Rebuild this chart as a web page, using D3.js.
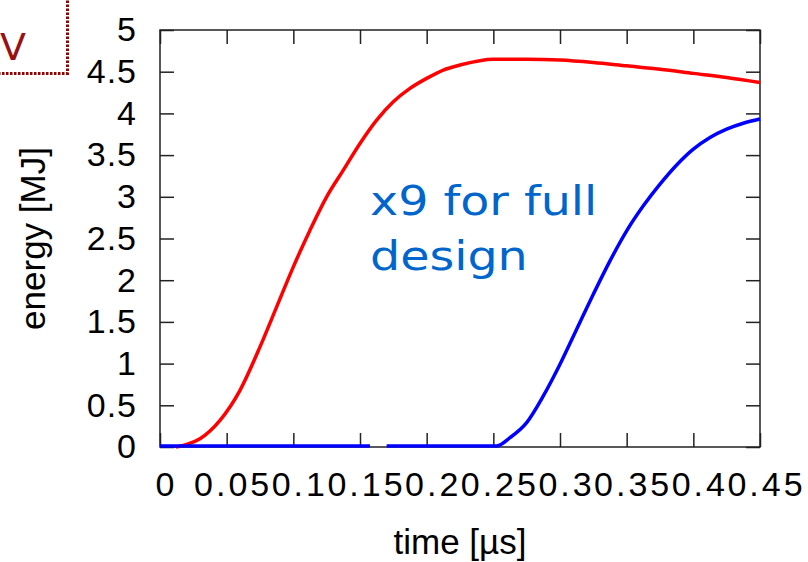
<!DOCTYPE html>
<html>
<head>
<meta charset="utf-8">
<script src="https://cdn.jsdelivr.net/npm/d3@7"></script>
<style>
    body { margin: 0; background: #fff; }
    svg { display: block; }
</style>
</head>
<body>
<div id="container"></div>
<script>
// red curve: time [us] / energy [MJ]
const redTime = [0.012, 0.02, 0.03, 0.045, 0.06, 0.075, 0.0875, 0.1, 0.1125, 0.125, 0.1375, 0.15,
    0.1625, 0.175, 0.1875, 0.2, 0.2125, 0.225, 0.25, 0.275, 0.3, 0.325, 0.35, 0.375, 0.4, 0.425, 0.45]
const redEnergy = [0, 0.03, 0.10, 0.32, 0.68, 1.20, 1.68, 2.16, 2.60, 3.00, 3.32, 3.64,
    3.92, 4.14, 4.30, 4.42, 4.52, 4.58, 4.65, 4.65, 4.64, 4.61, 4.57, 4.53, 4.48, 4.43, 4.37]

// blue curve, null = gap in the trace
const blueTime = [0, 0.1575, 0.164, 0.17, 0.2525, 0.2625, 0.275, 0.2875, 0.3, 0.3125, 0.325,
    0.3375, 0.35, 0.3625, 0.375, 0.3875, 0.4, 0.4125, 0.425, 0.4375, 0.45]
const blueEnergy = [0, 0, null, 0, 0, 0.10, 0.28, 0.60, 0.98, 1.40, 1.82,
    2.22, 2.58, 2.88, 3.14, 3.37, 3.56, 3.70, 3.80, 3.87, 3.92]

const xTicks = [0, 0.05, 0.1, 0.15, 0.2, 0.25, 0.3, 0.35, 0.4, 0.45]
const yTicks = [0, 0.5, 1, 1.5, 2, 2.5, 3, 3.5, 4, 4.5, 5]

const note = ['x9 for full', 'design']

function draw() {
    const config = {
        width: 808,
        height: 562,
        margin: { left: 160, right: 48, top: 30, bottom: 115 },
        tick: 14,
        font: 'Liberation Sans, Arial, sans-serif',
    }
    const chart = {
        width: config.width - config.margin.left - config.margin.right,
        height: config.height - config.margin.top - config.margin.bottom,
    }

    const svg = d3
        .select('#container')
        .append('svg')
        .attr('width', config.width)
        .attr('height', config.height)

    // clipped box in the upper left corner
    svg.append('rect')
        .attr('x', -10)
        .attr('y', -10)
        .attr('width', 77.5)
        .attr('height', 83.5)
        .attr('fill', 'none')
        .attr('stroke', '#990000')
        .attr('stroke-width', 3)
        .attr('stroke-dasharray', '2.5,1.5')

    svg.append('text')
        .attr('x', 26)
        .attr('y', 60)
        .attr('text-anchor', 'end')
        .attr('font-family', 'DejaVu Sans, sans-serif')
        .attr('font-size', '38px')
        .attr('fill', '#991111')
        .text('V')

    const root = svg
        .append('g')
        .attr('transform', `translate(${config.margin.left}, ${config.margin.top})`)

    const scaleX = d3.scaleLinear().domain([0, 0.45]).range([0, chart.width])
    const scaleY = d3.scaleLinear().domain([0, 5]).range([chart.height, 0])

    const xAxis = root.append('g')
        .attr('transform', `translate(0, ${chart.height})`)
        .call(d3.axisBottom(scaleX)
            .tickValues(xTicks)
            .tickSize(-config.tick)
            .tickSizeOuter(0)
            .tickPadding(25)
            .tickFormat(v => String(+v.toFixed(2))))

    const yAxis = root.append('g')
        .call(d3.axisLeft(scaleY)
            .tickValues(yTicks)
            .tickSize(-config.tick)
            .tickSizeOuter(0)
            .tickPadding(23)
            .tickFormat(v => String(v)))

    const topAxis = root.append('g')
        .call(d3.axisTop(scaleX).tickValues(xTicks).tickSize(-config.tick).tickSizeOuter(0).tickFormat(''))

    const rightAxis = root.append('g')
        .attr('transform', `translate(${chart.width}, 0)`)
        .call(d3.axisRight(scaleY).tickValues(yTicks).tickSize(-config.tick).tickSizeOuter(0).tickFormat(''))

    root.selectAll('.domain').remove()
    root.selectAll('.tick line').attr('stroke', '#222').attr('stroke-width', 1.5)

    xAxis.selectAll('text')
        .attr('font-family', config.font)
        .attr('font-size', '34px')
        .attr('letter-spacing', '3px')
        .attr('fill', '#000')
        .attr('dx', 6)
    yAxis.selectAll('text')
        .attr('font-family', config.font)
        .attr('font-size', '34px')
        .attr('letter-spacing', '1px')
        .attr('fill', '#000')

    root.append('rect')
        .attr('width', chart.width)
        .attr('height', chart.height)
        .attr('fill', 'none')
        .attr('stroke', '#222')
        .attr('stroke-width', 1.5)

    const line = d3.line()
        .defined(d => d.e !== null)
        .x(d => scaleX(d.t))
        .y(d => scaleY(d.e))
        .curve(d3.curveMonotoneX)

    const redData = redTime.map((t, i) => ({ t: t, e: redEnergy[i] }))
    const blueData = blueTime.map((t, i) => ({ t: t, e: blueEnergy[i] }))

    root.append('path')
        .datum(redData)
        .attr('d', line)
        .attr('fill', 'none')
        .attr('stroke', '#ff0000')
        .attr('stroke-width', 3.5)

    root.append('path')
        .datum(blueData)
        .attr('d', line)
        .attr('fill', 'none')
        .attr('stroke', '#0000ff')
        .attr('stroke-width', 3.5)
        .attr('transform', 'translate(0, -1)')

    // axis titles
    svg.append('text')
        .attr('x', config.margin.left + chart.width / 2)
        .attr('y', 554)
        .attr('text-anchor', 'middle')
        .attr('font-family', config.font)
        .attr('font-size', '35px')
        .text('time [µs]')

    svg.append('text')
        .attr('transform', `translate(45, ${config.margin.top + chart.height / 2}) rotate(-90)`)
        .attr('text-anchor', 'middle')
        .attr('font-family', config.font)
        .attr('font-size', '35px')
        .text('energy [MJ]')

    // annotation
    svg.append('g')
        .selectAll('text')
        .data(note)
        .enter()
        .append('text')
        .attr('transform', (d, i) => `translate(370, ${215 + i * 55}) scale(1.16, 1)`)
        .attr('font-family', 'DejaVu Sans, sans-serif')
        .attr('font-size', '41px')
        .attr('fill', '#0066cc')
        .text(d => d)
}

draw()
</script>
</body>
</html>
